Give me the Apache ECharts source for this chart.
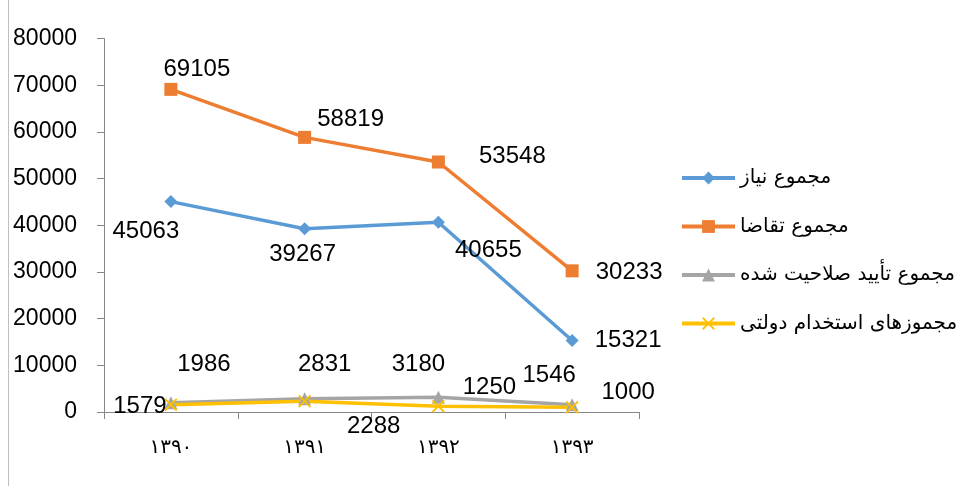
<!DOCTYPE html>
<html>
<head>
<meta charset="utf-8">
<script src="https://cdn.jsdelivr.net/npm/echarts@6/dist/echarts.min.js"></script>
<style>
html,body{margin:0;padding:0;background:#fff;}
#chart{width:978px;height:486px;}
</style>
</head>
<body>
<div id="chart"></div>
<script>
// ---- data ----
const categories = ['۱۳۹۰', '۱۳۹۱', '۱۳۹۲', '۱۳۹۳'];
const seriesNames = ['مجموع نیاز', 'مجموع تقاضا', 'مجموع تأیید صلاحیت شده', 'مجموزهای استخدام دولتی'];
const needTotal = [45063, 39267, 40655, 15321];
const demandTotal = [69105, 58819, 53548, 30233];
const approvedTotal = [1986, 2831, 3180, 1546];
const employmentPermits = [1579, 2288, 1250, 1000];
const yMin = 0, yMax = 80000, yInterval = 10000;

// ---- styles (label placement, as in the source chart) ----
const labelOffsets = [
  [[-25, 30], [-2, 26], [50, 28], [56, 0]],
  [[26, -20], [46, -18], [74, -6], [57, 2]],
  [[33, -38], [20, -34], [-20, -33], [-23, -29]],
  [[-31, 2], [69, 25], [51, -19], [56, -15]]
];
const colors = ['#5B9BD5', '#ED7D31', '#A5A5A5', '#FFC000'];
const symbols = ['diamond', 'rect', 'triangle',
  'path://M1,0 L5,4 L9,0 L10,1 L6,5 L10,9 L9,10 L5,6 L1,10 L0,9 L4,5 L0,1 Z'];
const symbolSizes = [13, 13, 13, 13];
const allValues = [needTotal, demandTotal, approvedTotal, employmentPermits];

const numFont = 'Liberation Sans, Arial, sans-serif';

function buildSeries(i) {
  return {
    name: seriesNames[i],
    type: 'line',
    data: allValues[i].map((v, j) => ({
      value: v,
      label: { offset: labelOffsets[i][j] }
    })),
    symbol: symbols[i],
    symbolSize: symbolSizes[i],
    showAllSymbol: true,
    lineStyle: { width: 3.5, color: colors[i] },
    itemStyle: { color: colors[i] },
    label: {
      show: true,
      position: 'inside',
      align: 'center',
      verticalAlign: 'middle',
      color: '#000',
      fontSize: 24,
      fontFamily: numFont
    },
    emphasis: { disabled: true },
    animation: false
  };
}

const chart = echarts.init(document.getElementById('chart'), null, { renderer: 'canvas' });
chart.setOption({
  backgroundColor: '#fff',
  color: colors,
  animation: false,
  grid: { left: 104, right: 339, top: 38.5, bottom: 74, containLabel: false },
  graphic: [{
    type: 'line',
    shape: { x1: 8.5, y1: 0, x2: 8.5, y2: 486 },
    style: { stroke: '#bfbfbf', lineWidth: 1 }
  }],
  legend: {
    orient: 'vertical',
    left: 675,
    top: 163,
    itemWidth: 53,
    itemHeight: 16,
    itemGap: 28.5,
    lineStyle: { width: 4 },
    textStyle: { fontFamily: 'DejaVu Sans', fontSize: 20, color: '#000' },
    data: seriesNames
  },
  xAxis: {
    type: 'category',
    data: categories,
    boundaryGap: true,
    axisLine: { lineStyle: { color: '#868686', width: 1 } },
    axisTick: { show: true, length: 7, lineStyle: { color: '#868686' } },
    axisLabel: {
      color: '#000',
      fontSize: 20,
      fontFamily: 'DejaVu Sans',
      margin: 26
    },
    splitLine: { show: false }
  },
  yAxis: {
    type: 'value',
    min: yMin,
    max: yMax,
    interval: yInterval,
    axisLine: { show: true, lineStyle: { color: '#868686', width: 1 } },
    axisTick: { show: true, length: 7, lineStyle: { color: '#868686' } },
    axisLabel: { color: '#000', fontSize: 23, fontFamily: numFont, margin: 27, formatter: v => String(v) },
    splitLine: { show: false }
  },
  series: [0, 1, 2, 3].map(buildSeries)
});
</script>
</body>
</html>
